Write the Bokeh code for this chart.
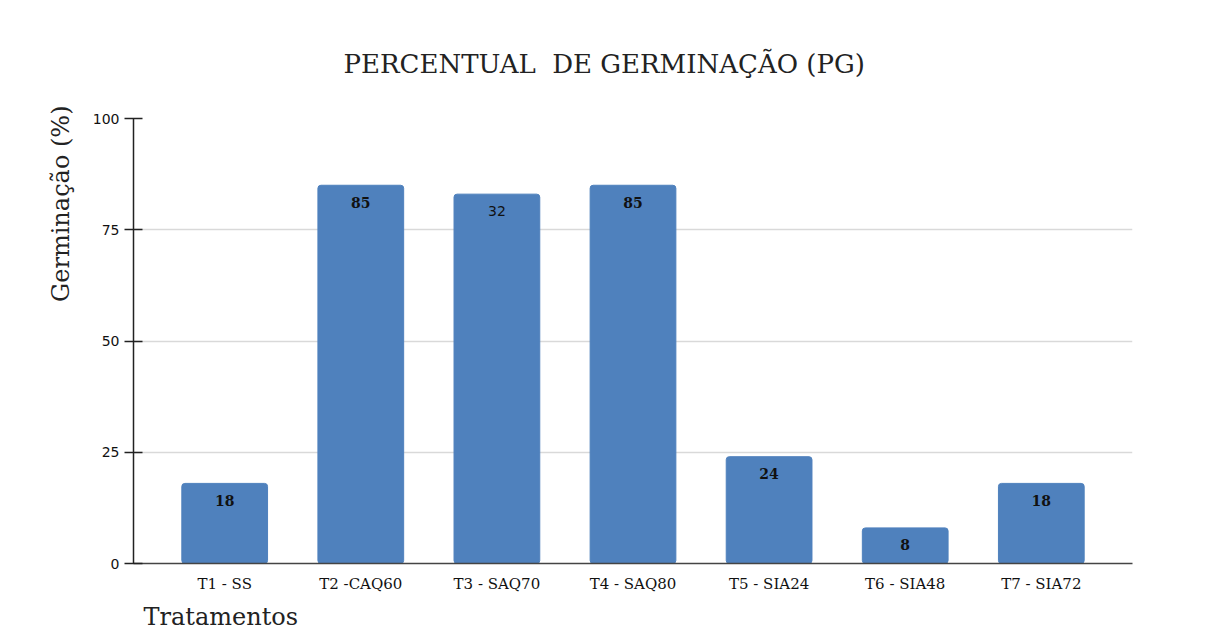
from bokeh.plotting import figure
from bokeh.models import FactorRange, Range1d, Title, ColumnDataSource
from bokeh.core.properties import value
from bokeh.embed import file_html
from bokeh.resources import INLINE

categories = ["T1 - SS", "T2 -CAQ60", "T3 - SAQ70", "T4 - SAQ80", "T5 - SIA24", "T6 - SIA48", "T7 - SIA72"]
germination = [18, 85, 83, 85, 24, 8, 18]
bar_labels = ["18", "85", "32", "85", "24", "8", "18"]
y_ticks = [0, 25, 50, 75, 100]

bold_idx = [i for i in range(len(categories)) if bar_labels[i] == str(germination[i])]
plain_idx = [i for i in range(len(categories)) if i not in bold_idx]

src_all = ColumnDataSource(dict(x=categories, top=germination))
src_bold = ColumnDataSource(dict(x=[categories[i] for i in bold_idx],
                                 y=[germination[i] for i in bold_idx],
                                 t=[bar_labels[i] for i in bold_idx]))
src_plain = ColumnDataSource(dict(x=[categories[i] for i in plain_idx],
                                  y=[germination[i] for i in plain_idx],
                                  t=[bar_labels[i] for i in plain_idx]))

p = figure(width=1209, height=642,
           x_range=FactorRange(*categories, range_padding=0.17, range_padding_units="absolute"),
           y_range=Range1d(0, 100),
           output_backend="svg", toolbar_location=None,
           min_border_left=133, min_border_right=77, min_border_top=118, min_border_bottom=79)

p.title = Title(text="PERCENTUAL\u00a0 DE GERMINAÇÃO (PG)", align="left", offset=210,
                text_font="DejaVu Serif", text_font_size="26px", text_font_style="normal",
                text_color="#222222", standoff=80)
p.add_layout(Title(text="Tratamentos", align="left", offset=10,
                   text_font="DejaVu Serif", text_font_size="24px", text_font_style="normal",
                   text_color="#222222", standoff=10), "below")
p.add_layout(Title(text="Germinação (%)", align="right", offset=-13,
                   text_font="DejaVu Serif", text_font_size="24px", text_font_style="normal",
                   text_color="#222222", standoff=30), "left")

p.background_fill_color = "white"
p.border_fill_color = "white"
p.outline_line_color = None

p.vbar(x="x", top="top", width=0.63, source=src_all, fill_color="#4f81bd",
       line_color="#4f81bd", border_radius=3)

p.text(x="x", y="y", text="t", source=src_bold, text_align="center", text_baseline="middle",
       y_offset=17, text_font=value("DejaVu Serif"), text_font_style="bold",
       text_font_size="14px", text_color="#111111")
p.text(x="x", y="y", text="t", source=src_plain, text_align="center", text_baseline="middle",
       y_offset=17, text_font=value("DejaVu Sans"), text_font_style="normal",
       text_font_size="14px", text_color="#111111")

p.xgrid.grid_line_color = None
p.ygrid.grid_line_color = "#d9d9d9"
p.ygrid.grid_line_width = 1.5
p.ygrid.ticker = y_ticks

p.yaxis.ticker = y_ticks
p.yaxis.major_label_text_font = "DejaVu Sans"
p.yaxis.major_label_text_font_size = "14px"
p.yaxis.major_label_text_color = "#111111"
p.yaxis.major_tick_in = 9
p.yaxis.major_tick_out = 9
p.yaxis.minor_tick_line_color = None
p.yaxis.axis_line_color = "#222222"
p.yaxis.major_tick_line_color = "#222222"
p.yaxis.axis_line_width = 1.5
p.yaxis.major_tick_line_width = 1.5

p.xaxis.major_tick_line_color = None
p.xaxis.minor_tick_line_color = None
p.xaxis.axis_line_color = "#444444"
p.xaxis.axis_line_width = 1.5
p.xaxis.major_label_text_font = "DejaVu Serif"
p.xaxis.major_label_text_font_size = "15px"
p.xaxis.major_label_text_color = "#111111"
p.xaxis.major_label_standoff = 5

open("out.html", "w").write(file_html(p, INLINE))
